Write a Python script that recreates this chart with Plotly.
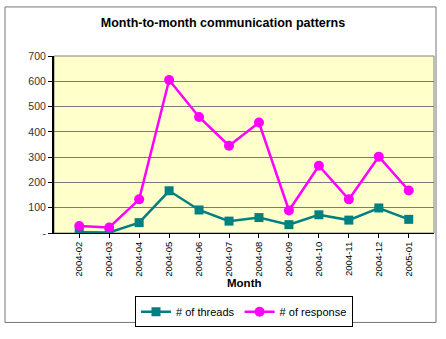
import plotly.graph_objects as go

months = ["2004-02", "2004-03", "2004-04", "2004-05", "2004-06", "2004-07",
          "2004-08", "2004-09", "2004-10", "2004-11", "2004-12", "2005-01"]
threads = [3, 2, 41, 167, 91, 47, 61, 33, 72, 51, 99, 54]
responses = [28, 22, 133, 605, 459, 345, 437, 89, 266, 133, 302, 168]
y_ticks = [0, 100, 200, 300, 400, 500, 600, 700]
y_tick_text = ["-", "100", "200", "300", "400", "500", "600", "700"]

fig = go.Figure()
fig.add_trace(go.Scatter(
    x=months, y=threads, name="# of threads", mode="lines+markers",
    line=dict(color="#008080", width=2.5),
    marker=dict(symbol="square", size=9, color="#008080"),
))
fig.add_trace(go.Scatter(
    x=months, y=responses, name="# of response", mode="lines+markers",
    line=dict(color="#FF00FF", width=2.5),
    marker=dict(symbol="circle", size=10, color="#FF00FF"),
))

fig.update_layout(
    width=446, height=339,
    margin=dict(l=54, r=12, t=56, b=99),
    paper_bgcolor="white",
    plot_bgcolor="#FFFFCC",
    font=dict(family="Arial, Liberation Sans", size=10, color="#222"),
    title=dict(text="<b>Month-to-month communication patterns</b>",
               x=0.5, xanchor="center", y=1 - 23 / 339, yanchor="middle",
               font=dict(size=12.5, color="black")),
    showlegend=True,
    legend=dict(orientation="h", x=0.5, xanchor="center", y=-0.445, yanchor="middle",
                bordercolor="black", borderwidth=1, bgcolor="white",
                font=dict(size=11, color="black"), itemwidth=30,
                tracegroupgap=0),
    xaxis=dict(
        type="category", tickangle=-90, showgrid=False,
        showline=True, linecolor="black", linewidth=1,
        ticks="outside", ticklen=4, tickcolor="black",
        tickfont=dict(size=9.5, color="black"),
        mirror=False,
    ),
    yaxis=dict(
        range=[0, 700], tickvals=y_ticks, ticktext=y_tick_text,
        showgrid=True, gridcolor="#7a7a7a", gridwidth=1,
        showline=True, linecolor="black", linewidth=2,
        ticks="outside", ticklen=4, tickcolor="black",
        tickfont=dict(size=10.5, color="#333"), zeroline=False,
    ),
    annotations=[dict(text="<b>Month</b>", xref="paper", yref="paper",
                      x=0.5, y=(240 - 292) / 184, xanchor="center", yanchor="middle",
                      showarrow=False, font=dict(size=11.5, color="black"))],
    shapes=[
        dict(type="rect", xref="paper", yref="paper",
             x0=(5 - 54) / 380, x1=(436 - 54) / 380,
             y0=(240 - 333) / 184, y1=(240 - 5) / 184,
             line=dict(color="#777", width=1), fillcolor="rgba(0,0,0,0)", layer="below"),
        dict(type="rect", xref="paper", yref="paper", x0=0, x1=1, y0=0, y1=1,
             line=dict(color="#808080", width=1), fillcolor="rgba(0,0,0,0)", layer="below"),
    ],
)

fig.write_html("out.html")
